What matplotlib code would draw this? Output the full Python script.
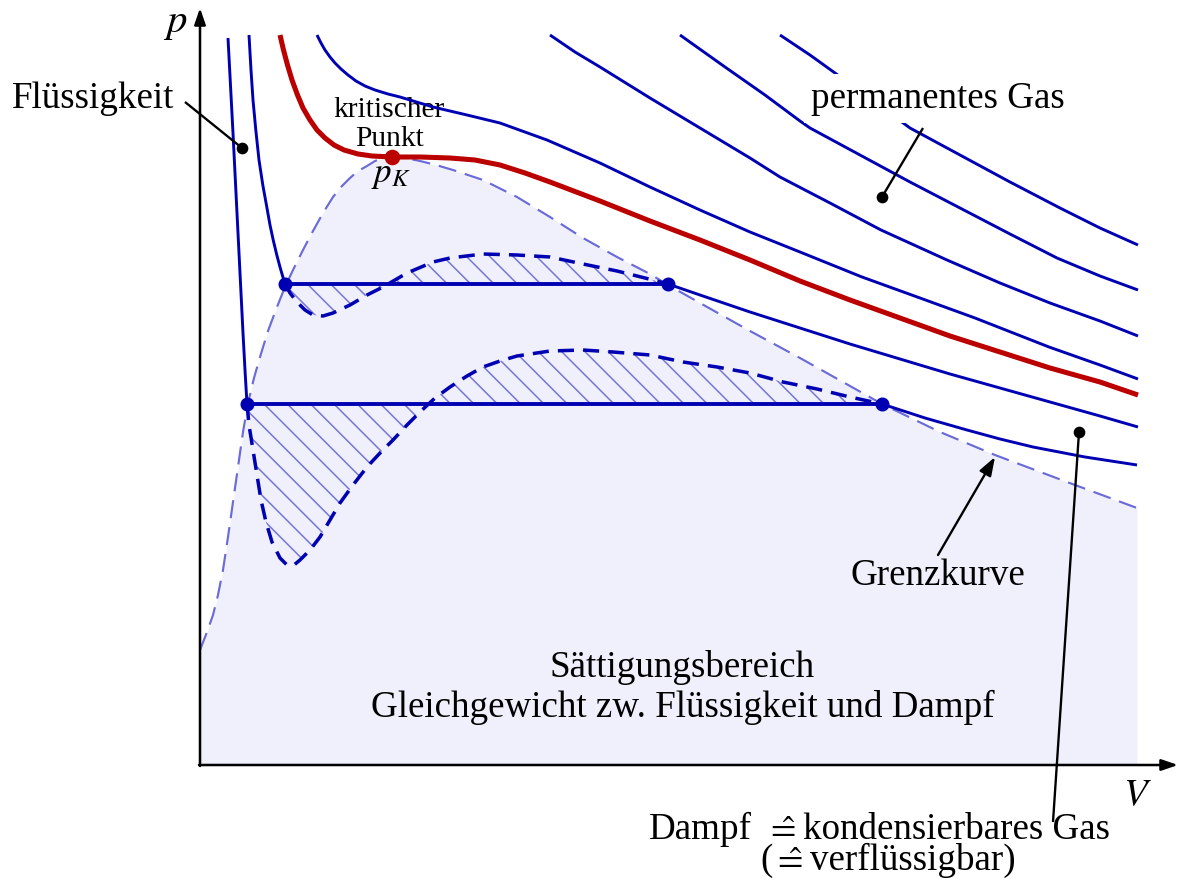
import matplotlib
matplotlib.use('Agg')
import matplotlib.pyplot as plt

plt.rcParams['font.family'] = ['Liberation Serif', 'DejaVu Sans']
plt.rcParams['mathtext.fontset'] = 'stix'
plt.rcParams['hatch.linewidth'] = 0.8

DPI = 140

# ---------------- data (V, p in arbitrary units) ----------------
p_lower = 3.61          # lower Maxwell line
p_upper = 4.81          # upper Maxwell line
crit_V, crit_p = 1.92, 6.08

iso1_left_V = [0.28, 0.33, 0.38, 0.43, 0.45, 0.47]
iso1_left_p = [7.27, 6.32, 5.32, 4.32, 3.95, 3.61]
iso1_right_V = [6.82, 7.25, 7.67, 8.00, 8.33, 8.85, 9.37]
iso1_right_p = [3.61, 3.47, 3.35, 3.26, 3.18, 3.08, 3.00]

iso2_left_V = [0.49, 0.51, 0.53, 0.558, 0.59, 0.628, 0.668, 0.70, 0.732, 0.768, 0.80, 0.826, 0.85]
iso2_left_p = [7.30, 6.95, 6.65, 6.35, 6.05, 5.80, 5.58, 5.40, 5.25, 5.10, 4.98, 4.89, 4.81]
iso2_right_V = [4.68, 5.00, 5.50, 6.00, 6.50, 7.00, 7.50, 8.00, 8.50, 9.00, 9.38]
iso2_right_p = [4.81, 4.70, 4.53, 4.37, 4.21, 4.06, 3.91, 3.77, 3.63, 3.49, 3.38]

crit_iso_V = [0.80, 0.835, 0.875, 0.92, 0.975, 1.03, 1.10, 1.17, 1.25, 1.34, 1.44, 1.58,
              1.72, 1.92, 2.20, 2.50, 2.75, 3.00, 3.25, 3.50, 4.00, 4.50, 5.00, 5.50,
              6.00, 6.50, 7.00, 7.50, 8.00, 8.50, 9.00, 9.38]
crit_iso_p = [7.30, 7.15, 7.00, 6.85, 6.70, 6.57, 6.45, 6.35, 6.27, 6.20, 6.15, 6.11,
              6.09, 6.08, 6.08, 6.07, 6.05, 6.00, 5.92, 5.83, 5.64, 5.44, 5.25, 5.05,
              4.84, 4.65, 4.47, 4.29, 4.13, 3.97, 3.83, 3.70]

iso3_V = [1.17, 1.21, 1.25, 1.30, 1.35, 1.41, 1.48, 1.56, 1.65, 1.75, 1.88, 2.00, 2.33,
          2.67, 3.00, 3.47, 4.00, 4.50, 5.00, 5.50, 6.00, 6.62, 7.20, 7.75, 8.49, 9.00, 9.38]
iso3_p = [7.30, 7.22, 7.15, 7.08, 7.02, 6.96, 6.90, 6.84, 6.79, 6.75, 6.71, 6.68, 6.58,
          6.50, 6.42, 6.25, 6.02, 5.78, 5.55, 5.33, 5.13, 4.88, 4.67, 4.47, 4.18, 4.00, 3.86]

iso4_V = [3.50, 3.75, 4.00, 4.50, 5.00, 5.50, 5.80, 6.30, 6.81, 7.47, 8.00, 8.50, 9.00, 9.38]
iso4_p = [7.30, 7.13, 6.98, 6.67, 6.37, 6.07, 5.88, 5.62, 5.35, 5.05, 4.82, 4.62, 4.44, 4.29]

iso5_V = [4.80, 5.25, 5.65, 6.00, 6.10, 6.60, 7.10, 7.60, 8.10, 8.57, 9.00, 9.38]
iso5_p = [7.30, 6.98, 6.70, 6.44, 6.37, 6.10, 5.83, 5.57, 5.31, 5.07, 4.89, 4.75]

iso6_V = [5.80, 6.10, 6.35, 6.72, 7.10, 7.60, 8.10, 8.60, 9.00, 9.38]
iso6_p = [7.30, 7.10, 6.92, 6.65, 6.37, 6.10, 5.83, 5.57, 5.37, 5.20]

upper_loop_V = [0.85, 0.90, 0.97, 1.05, 1.13, 1.23, 1.33, 1.50, 1.67, 1.83, 2.07, 2.33,
                2.50, 2.83, 3.17, 3.50, 3.83, 4.17, 4.45, 4.68]
upper_loop_p = [4.81, 4.72, 4.63, 4.55, 4.50, 4.49, 4.52, 4.60, 4.70, 4.78, 4.92, 5.03,
                5.07, 5.11, 5.10, 5.08, 5.01, 4.94, 4.87, 4.81]

lower_loop_V = [0.47, 0.49, 0.53, 0.57, 0.61, 0.66, 0.72, 0.80, 0.87, 0.94, 1.00, 1.10,
                1.20, 1.30, 1.40, 1.53, 1.67, 1.80, 1.93, 2.07, 2.20, 2.35, 2.50, 2.67,
                2.83, 3.00, 3.17, 3.50, 3.83, 4.13, 4.50, 4.83, 5.17, 5.50, 5.83, 6.17,
                6.50, 6.82]
lower_loop_p = [3.61, 3.40, 3.15, 2.90, 2.65, 2.43, 2.23, 2.07, 2.00, 2.00, 2.05, 2.15,
                2.28, 2.45, 2.62, 2.80, 2.98, 3.12, 3.25, 3.40, 3.53, 3.67, 3.78, 3.89,
                3.98, 4.04, 4.09, 4.14, 4.15, 4.13, 4.10, 4.03, 3.98, 3.92, 3.83, 3.76,
                3.68, 3.61]

grenz_V = [0.00, 0.07, 0.13, 0.18, 0.23, 0.28, 0.33, 0.38, 0.43, 0.48, 0.54, 0.60, 0.68,
           0.77, 0.85, 0.93, 1.03, 1.13, 1.23, 1.33, 1.42, 1.50, 1.58, 1.67, 1.75, 1.83,
           1.92, 2.00, 2.10, 2.20, 2.36, 2.53, 2.83, 3.17, 3.50, 3.83, 4.17, 4.50, 4.68,
           5.00, 5.50, 6.00, 6.50, 6.82, 7.40, 7.95, 8.67, 9.37]
grenz_p = [1.15, 1.33, 1.50, 1.70, 1.95, 2.28, 2.63, 2.98, 3.33, 3.62, 3.87, 4.08, 4.34,
           4.58, 4.78, 4.95, 5.15, 5.34, 5.52, 5.68, 5.79, 5.87, 5.94, 5.99, 6.04, 6.07,
           6.08, 6.08, 6.06, 6.04, 6.00, 5.95, 5.85, 5.68, 5.48, 5.27, 5.08, 4.91, 4.80,
           4.62, 4.34, 4.07, 3.79, 3.61, 3.33, 3.10, 2.83, 2.57]

# ---------------- styles ----------------
BLUE = '#0000b3'
RED = '#bb0000'
GRENZ = '#6a6ad8'
HATCH = '#7878d4'
FILL = '#f0f0fc'

fig = plt.figure(figsize=(1180 / DPI, 880 / DPI), dpi=DPI)
ax = fig.add_axes([0, 0, 1, 1])
ax.set_xlim(-2.0, 9.8)
ax.set_ylim(-1.15, 7.65)
ax.axis('off')

# saturation region
ax.fill_between(grenz_V, grenz_p, 0, color=FILL, lw=0, zorder=1)

# hatched areas between loops and Maxwell lines
plt.rcParams['hatch.color'] = HATCH
ax.fill_between(upper_loop_V, upper_loop_p, p_upper, facecolor='none',
                edgecolor=HATCH, hatch='\\\\', linewidth=0, zorder=2)
ax.fill_between(lower_loop_V, lower_loop_p, p_lower, facecolor='none',
                edgecolor=HATCH, hatch='\\\\', linewidth=0, zorder=2)

# Grenzkurve
ax.plot(grenz_V, grenz_p, color=GRENZ, lw=1.1, ls=(0, (8.5, 4.2)), zorder=3)

# van der Waals loops
ax.plot(upper_loop_V, upper_loop_p, color=BLUE, lw=1.8, ls=(0, (4.6, 2.6)), zorder=4)
ax.plot(lower_loop_V, lower_loop_p, color=BLUE, lw=1.8, ls=(0, (4.6, 2.6)), zorder=4)

# isotherms
for xs, ys in [(iso1_left_V, iso1_left_p), (iso1_right_V, iso1_right_p),
               (iso2_left_V, iso2_left_p), (iso2_right_V, iso2_right_p),
               (iso3_V, iso3_p), (iso4_V, iso4_p), (iso5_V, iso5_p), (iso6_V, iso6_p)]:
    ax.plot(xs, ys, color=BLUE, lw=1.5, zorder=5, solid_capstyle='butt',
            solid_joinstyle='round')
ax.plot(crit_iso_V, crit_iso_p, color=RED, lw=2.6, zorder=5, solid_capstyle='butt',
        solid_joinstyle='round')

# Maxwell lines
ax.plot([upper_loop_V[0], upper_loop_V[-1]], [p_upper, p_upper], color=BLUE, lw=2.0, zorder=5)
ax.plot([lower_loop_V[0], lower_loop_V[-1]], [p_lower, p_lower], color=BLUE, lw=2.0, zorder=5)
ax.plot([upper_loop_V[0], upper_loop_V[-1], lower_loop_V[0], lower_loop_V[-1]],
        [p_upper, p_upper, p_lower, p_lower], 'o', color=BLUE, ms=6.2, zorder=6)
ax.plot([crit_V], [crit_p], 'o', color=RED, ms=7.0, zorder=6)

# axes with arrows
arrow = dict(arrowstyle='-|>,head_length=0.7,head_width=0.24', color='k', lw=1.3,
             shrinkA=0, shrinkB=0, mutation_scale=10)
ax.annotate('', xy=(9.78, 0), xytext=(-0.01, 0), arrowprops=arrow, zorder=7)
ax.annotate('', xy=(0, 7.57), xytext=(0, -0.01), arrowprops=arrow, zorder=7)
ax.text(-0.25, 7.33, r'$p$', fontsize=21, ha='center', va='baseline')
ax.text(9.37, -0.40, r'$V$', fontsize=20, ha='center', va='baseline')

FS = 19
# pointers
ptr = dict(color='k', lw=1.2, zorder=8, solid_capstyle='butt')
ax.plot([-0.15, 0.42], [6.63, 6.17], **ptr)
ax.plot([7.23, 6.82], [6.37, 5.68], **ptr)
ax.plot([8.53, 8.79], [-0.57, 3.33], **ptr)
ax.plot([0.42, 6.82, 8.79], [6.17, 5.68, 3.33], 'o', color='k', ms=5, zorder=9)
ax.annotate('', xy=(7.95, 3.08), xytext=(7.38, 2.10),
            arrowprops=dict(arrowstyle='-|>,head_length=0.8,head_width=0.28', color='k',
                            lw=1.2, shrinkA=0, shrinkB=0, mutation_scale=10), zorder=8)

# texts
ax.text(-1.07, 6.57, 'Flüssigkeit', fontsize=FS, ha='center', va='baseline')
ax.text(1.89, 6.48, 'kritischer', fontsize=15.2, ha='center', va='baseline')
ax.text(1.895, 6.19, 'Punkt', fontsize=15.2, ha='center', va='baseline')
ax.text(1.91, 5.83, r'$p_K$', fontsize=18, ha='center', va='baseline')
ax.text(7.38, 6.57, 'permanentes Gas', fontsize=FS, ha='center', va='baseline', zorder=10,
        bbox=dict(boxstyle='square,pad=0.2', facecolor='white', edgecolor='none'))
ax.text(7.38, 1.80, 'Grenzkurve', fontsize=FS, ha='center', va='baseline')
ax.text(4.82, 0.88, 'Sättigungsbereich', fontsize=FS, ha='center', va='baseline')
ax.text(4.83, 0.48, 'Gleichgewicht zw. Flüssigkeit und Dampf', fontsize=FS,
        ha='center', va='baseline')
ax.text(5.52, -0.74, 'Dampf', fontsize=FS, ha='right', va='baseline')
ax.text(5.80, -0.74, r'$\hat{=}$', fontsize=FS, ha='center', va='baseline')
ax.text(6.03, -0.74, 'kondensierbares Gas', fontsize=FS, ha='left', va='baseline')
ax.text(5.73, -1.05, '(', fontsize=FS, ha='right', va='baseline')
ax.text(5.87, -1.05, r'$\hat{=}$', fontsize=FS, ha='center', va='baseline')
ax.text(6.10, -1.05, 'verflüssigbar)', fontsize=FS, ha='left', va='baseline')

fig.savefig('out.png', dpi=DPI)
